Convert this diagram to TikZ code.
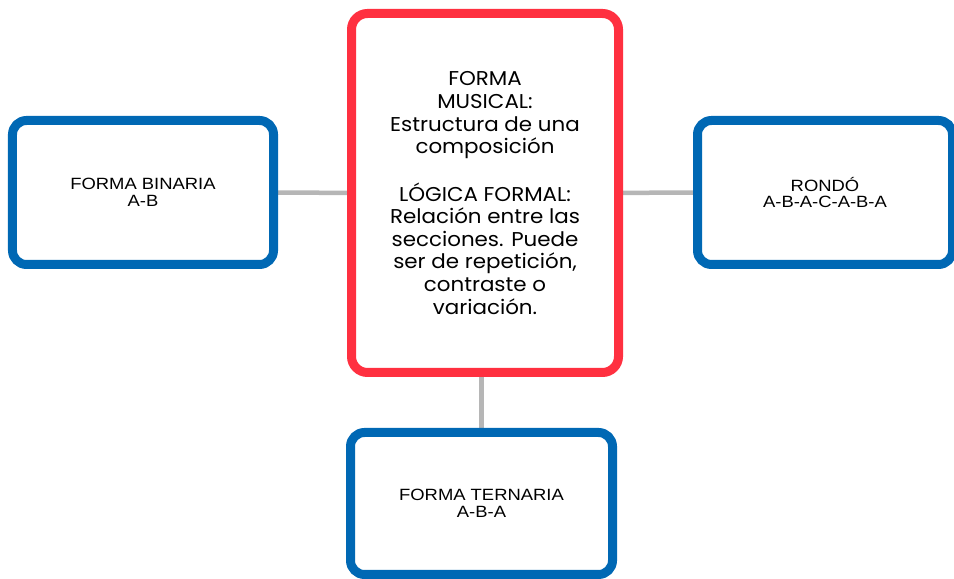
\documentclass[tikz,border=0pt]{standalone}
\usepackage{fontspec}
\setmainfont[FakeStretch=1.13]{Liberation Sans}
\newfontfamily\titulofont[FakeStretch=1.07]{Poppins}
\usetikzlibrary{backgrounds}
\definecolor{rojo}{RGB}{255,48,64}
\definecolor{azul}{RGB}{0,104,180}
\definecolor{gris}{RGB}{182,182,182}
\begin{document}
\begin{tikzpicture}[x=1bp,y=1bp,
	caja/.style={draw=azul,line width=9bp,rectangle,rounded corners=14bp,fill=white,align=center,
		font=\fontsize{16.3bp}{16.6bp}\selectfont,minimum width=261bp,minimum height=144bp,inner sep=0pt},
	central/.style={draw=rojo,line width=9bp,rectangle,rounded corners=16bp,fill=white,align=center,
		font=\titulofont\fontsize{20bp}{22.6bp}\selectfont,minimum width=267bp,minimum height=359bp,inner sep=0pt},
	enlace/.style={draw=gris,line width=4.5bp}]
				\useasboundingbox (0,0) rectangle (954,579);
				\node[name=musical,central] at (485,386){FORMA\\MUSICAL:\\Estructura de una\\composición\\[22.6bp]LÓGICA FORMAL:\\Relación entre las\\secciones. Puede\\ser de repetición,\\contraste o\\variación.};
				\node[name=binaria,caja] at (143,386.5){FORMA BINARIA\\A-B};
				\node[name=rondo,caja,minimum width=255bp] at (825,386.5){RONDÓ\\A-B-A-C-A-B-A};
				\node[name=ternaria,caja,minimum width=262bp,minimum height=142bp] at (481.5,75.5){FORMA TERNARIA\\A-B-A};
				\begin{pgfonlayer}{background}
					\draw[enlace] (binaria) -- (musical);
					\draw[enlace] (rondo) -- (musical);
					\draw[enlace] (ternaria.north) -- (ternaria.north |- musical.south);
				\end{pgfonlayer}
			\end{tikzpicture}
\end{document}
